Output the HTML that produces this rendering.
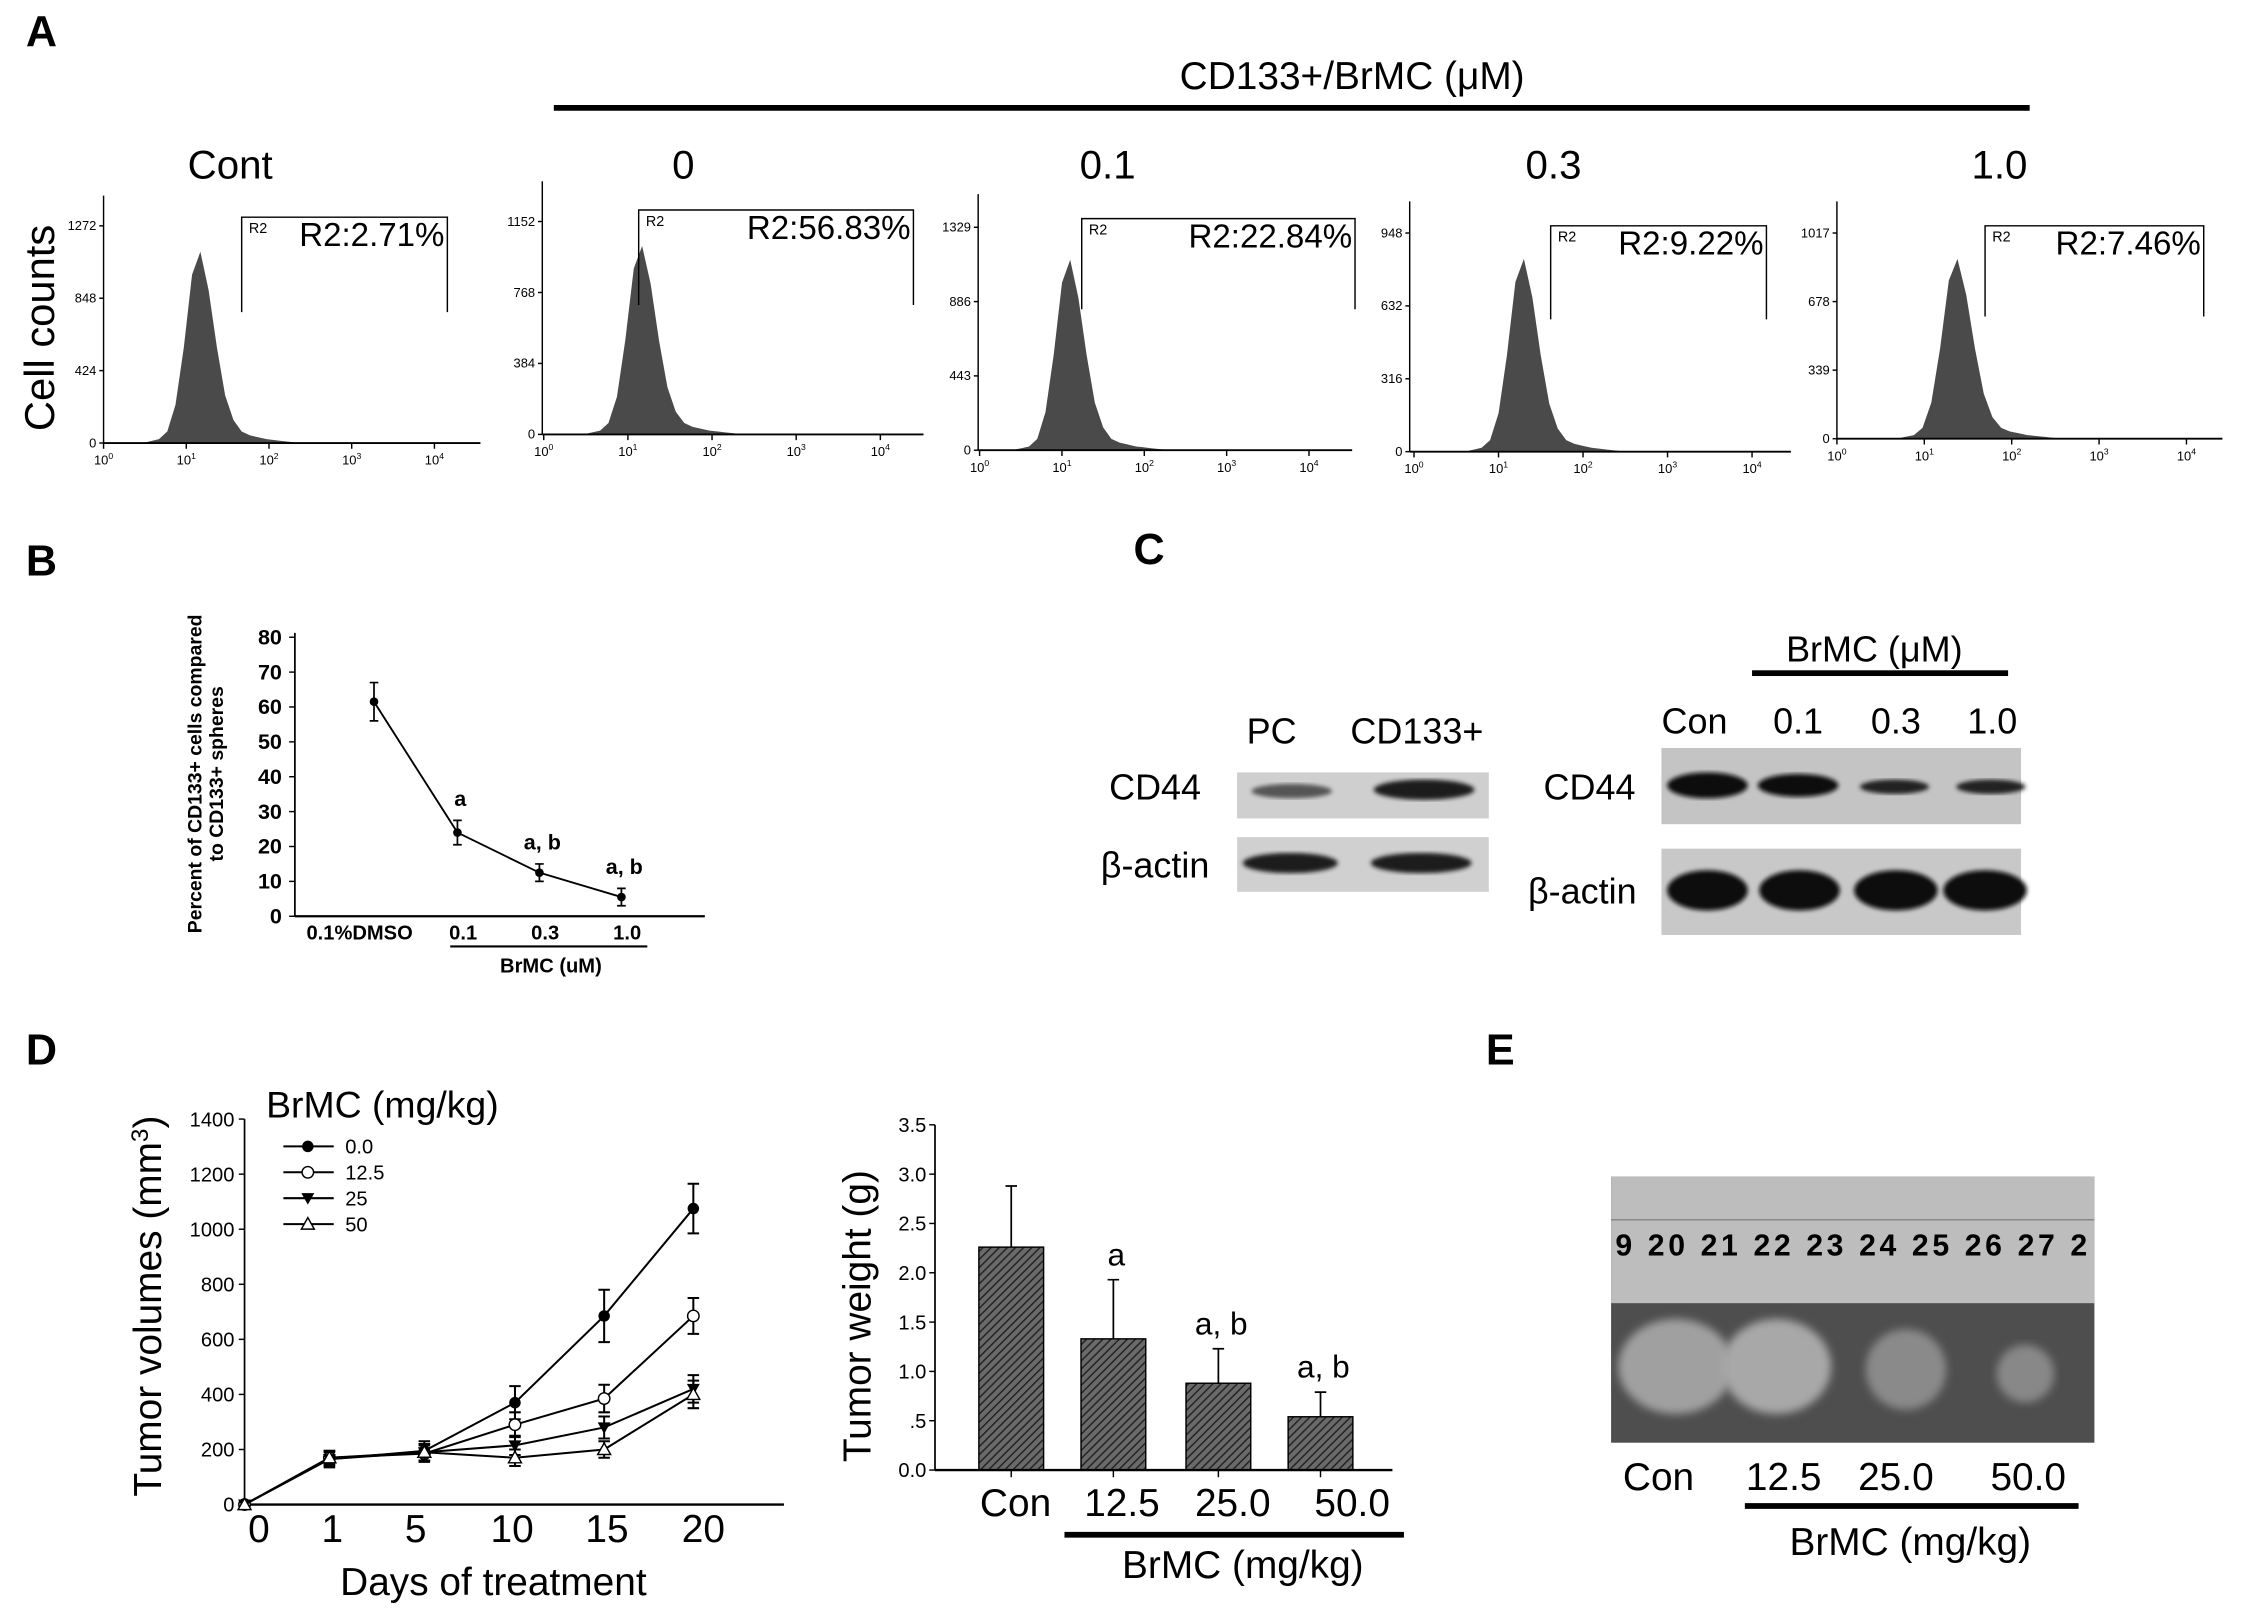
<!DOCTYPE html>
<html><head><meta charset="utf-8"><title>BrMC figure</title>
<style>
html,body{margin:0;padding:0;background:#fff}
svg{display:block}
text{font-family:"Liberation Sans Narrow","Liberation Sans",sans-serif;fill:#000}
.b{font-family:"Liberation Sans",sans-serif;font-weight:bold}
.w{font-family:"Liberation Sans",sans-serif}
</style></head>
<body>
<svg id="fig" xmlns="http://www.w3.org/2000/svg" width="2244" height="1611" viewBox="0 0 1560 1120" preserveAspectRatio="none">
<defs>
<pattern id="hatch" patternUnits="userSpaceOnUse" width="4" height="4" patternTransform="rotate(45)">
<rect width="4" height="4" fill="#6a6a6a"/><line x1="0" y1="0" x2="0" y2="4" stroke="#222" stroke-width="2"/>
</pattern>
<filter id="blur"><feGaussianBlur stdDeviation="3"/></filter>
<filter id="blur2"><feGaussianBlur stdDeviation="1.5"/></filter>
</defs>

<text class="b" x="18" y="32" font-size="30">A</text>
<text class="b" x="18" y="400" font-size="30">B</text>
<text class="b" x="788" y="392" font-size="30">C</text>
<text class="b" x="18" y="740" font-size="30">D</text>
<text class="b" x="1033" y="740" font-size="30">E</text>

<text class="w" x="940" y="62" font-size="27" text-anchor="middle">CD133+/BrMC (μM)</text>
<rect x="385" y="73" width="1026" height="4" fill="#000"/>
<text class="w" x="30" y="228" font-size="29" text-anchor="middle" transform="rotate(-90 30 228)" dominant-baseline="middle">Cell counts</text>
<g id="panelA"></g>

<g id="panelB"></g>

<g>
<text class="w" x="884" y="517" font-size="25" text-anchor="middle">PC</text>
<text class="w" x="985" y="517" font-size="25" text-anchor="middle">CD133+</text>
<text class="w" x="803" y="556" font-size="25" text-anchor="middle">CD44</text>
<text class="w" x="803" y="610" font-size="25" text-anchor="middle">β-actin</text>
<rect x="860" y="537" width="175" height="32" fill="#cfcfcf"/>
<rect x="860" y="582" width="175" height="38" fill="#d0d0d0"/>
<ellipse cx="898" cy="550" rx="28" ry="5" fill="#555" filter="url(#blur2)"/>
<ellipse cx="990" cy="549" rx="35" ry="7" fill="#1e1e1e" filter="url(#blur2)"/>
<ellipse cx="897" cy="600" rx="33" ry="7" fill="#1a1a1a" filter="url(#blur2)"/>
<ellipse cx="988" cy="600" rx="35" ry="7" fill="#1a1a1a" filter="url(#blur2)"/>
</g>
<g>
<text class="w" x="1303" y="460" font-size="25" text-anchor="middle">BrMC (μM)</text>
<rect x="1218" y="466" width="178" height="4" fill="#000"/>
<text class="w" x="1178" y="510" font-size="25" text-anchor="middle">Con</text>
<text class="w" x="1250" y="510" font-size="25" text-anchor="middle">0.1</text>
<text class="w" x="1318" y="510" font-size="25" text-anchor="middle">0.3</text>
<text class="w" x="1385" y="510" font-size="25" text-anchor="middle">1.0</text>
<text class="w" x="1105" y="556" font-size="25" text-anchor="middle">CD44</text>
<text class="w" x="1100" y="628" font-size="25" text-anchor="middle">β-actin</text>
<rect x="1155" y="520" width="250" height="53" fill="#c4c4c4"/>
<rect x="1155" y="590" width="250" height="60" fill="#c8c8c8"/>
<ellipse cx="1187" cy="546" rx="28" ry="9" fill="#0a0a0a" filter="url(#blur2)"/>
<ellipse cx="1250" cy="546" rx="28" ry="8" fill="#111" filter="url(#blur2)"/>
<ellipse cx="1317" cy="547" rx="24" ry="5" fill="#222" filter="url(#blur2)"/>
<ellipse cx="1384" cy="547" rx="24" ry="5" fill="#222" filter="url(#blur2)"/>
<ellipse cx="1187" cy="619" rx="28" ry="14" fill="#080808" filter="url(#blur2)"/>
<ellipse cx="1251" cy="619" rx="28" ry="14" fill="#080808" filter="url(#blur2)"/>
<ellipse cx="1318" cy="619" rx="29" ry="14" fill="#080808" filter="url(#blur2)"/>
<ellipse cx="1380" cy="619" rx="29" ry="14" fill="#080808" filter="url(#blur2)"/>
</g>

<g id="panelD1"></g>
<g id="panelD2"></g>

<g>
<rect x="1120" y="818" width="336" height="185" fill="#4e4e4e"/>
<rect x="1120" y="818" width="336" height="88" fill="#bdbdbd"/>
<line x1="1120" y1="848" x2="1456" y2="848" stroke="#888" stroke-width="1"/>
<text x="1123" y="873" font-size="21" font-weight="bold" fill="#222" font-family="Liberation Serif,serif" textLength="328">9 20 21 22 23 24 25 26 27 2</text>
<ellipse cx="1165" cy="950" rx="40" ry="33" fill="#a0a0a0" filter="url(#blur)"/>
<ellipse cx="1235" cy="950" rx="38" ry="33" fill="#a8a8a8" filter="url(#blur)"/>
<ellipse cx="1325" cy="952" rx="28" ry="28" fill="#8a8a8a" filter="url(#blur)"/>
<ellipse cx="1408" cy="955" rx="20" ry="20" fill="#888" filter="url(#blur)"/>
<text class="w" x="1153" y="1036" font-size="27" text-anchor="middle">Con</text>
<text class="w" x="1240" y="1036" font-size="27" text-anchor="middle">12.5</text>
<text class="w" x="1318" y="1036" font-size="27" text-anchor="middle">25.0</text>
<text class="w" x="1410" y="1036" font-size="27" text-anchor="middle">50.0</text>
<rect x="1213" y="1045" width="232" height="4" fill="#000"/>
<text class="w" x="1328" y="1081" font-size="27" text-anchor="middle">BrMC (mg/kg)</text>
</g>
</svg>

<script>
const histTitles = ["Cont","0","0.1","0.3","1.0"];
const histMaxTicks = [1272,1152,1329,948,1017];
const histPeakCounts = [1120,1020,1135,836,889];
const histPeakLog = [1.17,1.17,1.1,1.3,1.38];
const histR2 = ["R2:2.71%","R2:56.83%","R2:22.84%","R2:9.22%","R2:7.46%"];
const histShape = [0.0,0.01,0.02,0.06,0.2,0.5,0.88,1.0,0.8,0.5,0.25,0.12,0.06,0.04,0.03,0.02,0.015,0.01,0.005,0];
const bCats = ["0.1%DMSO","0.1","0.3","1.0"];
const bVals = [61.5,24,12.5,5.5];
const bErr = [5.5,3.5,2.5,2.5];
const bSig = ["","a","a, b","a, b"];
const bTicks = [0,10,20,30,40,50,60,70,80];
const dDays = ["0","1","5","10","15","20"];
const dSeriesNames = ["0.0","12.5","25","50"];
const dVol0 = [0,165,195,370,685,1075];
const dVol12 = [0,170,185,290,385,685];
const dVol25 = [0,165,190,215,280,420];
const dVol50 = [0,170,190,170,200,400];
const dErr0 = [0,30,35,60,95,90];
const dErr12 = [0,25,30,45,50,65];
const dErr25 = [0,25,30,35,40,50];
const dErr50 = [0,25,30,30,30,50];
const dYTicks = [0,200,400,600,800,1000,1200,1400];
const wCats = ["Con","12.5","25.0","50.0"];
const wVals = [2.26,1.33,0.88,0.54];
const wErr = [0.62,0.6,0.35,0.25];
const wSig = ["","a","a, b","a, b"];
const wTicks = ["0.0",".5","1.0","1.5","2.0","2.5","3.0","3.5"];

const NS="http://www.w3.org/2000/svg";
function mk(parent,tag,attrs,txt){const e=document.createElementNS(NS,tag);for(const k in attrs)e.setAttribute(k,attrs[k]);if(txt!==undefined)e.textContent=txt;parent.appendChild(e);return e;}

(function(){
 const g=document.getElementById('panelA');
 const geo=[
  {ax:72,xd0:72,xd4:302,xEnd:334,y0:308,yMax:157,top:136,gate:[168,311,151,217],tx:160},
  {ax:377,xd0:378,xd4:612,xEnd:642,y0:302,yMax:154,top:126,gate:[444,635,146,212],tx:475},
  {ax:680,xd0:681,xd4:910,xEnd:940,y0:313,yMax:158,top:135,gate:[752,942,152,215],tx:770},
  {ax:980,xd0:983,xd4:1218,xEnd:1245,y0:314,yMax:162,top:140,gate:[1078,1228,157,222],tx:1080},
  {ax:1277,xd0:1277,xd4:1520,xEnd:1545,y0:305,yMax:162,top:140,gate:[1380,1532,157,220],tx:1390}];
 histTitles.forEach((t,i)=>{
  const p=geo[i];
  const sub=mk(g,'g',{});
  
  
  const tt=mk(sub,'text',{x:p.tx,y:124,'font-size':28,'text-anchor':'middle','class':'w'},t);
  
  
  const yS=v=>p.y0-(v/histMaxTicks[i])*(p.y0-p.yMax);
  const xS=l=>p.xd0+(l/4)*(p.xd4-p.xd0);
  let d='M'+xS(histPeakLog[i]-0.8)+','+p.y0;
  histShape.forEach((h,k)=>{const off=-0.7+k*0.1;d+=' L'+xS(histPeakLog[i]+off).toFixed(1)+','+yS(h*histPeakCounts[i]).toFixed(1);});
  d+=' L'+xS(histPeakLog[i]+1.3)+','+p.y0+' Z';
  const hp=mk(sub,'path',{d:d,fill:'#4a4a4a'});
  
  
  mk(sub,'line',{x1:p.ax,y1:p.top,x2:p.ax,y2:p.y0,stroke:'#000','stroke-width':1});
  mk(sub,'line',{x1:p.ax,y1:p.y0,x2:p.xEnd,y2:p.y0,stroke:'#000','stroke-width':1.3});
  [0,1,2,3].forEach(k=>{const v=Math.round(histMaxTicks[i]*k/3);const y=yS(v);
   mk(sub,'line',{x1:p.ax-3,y1:y,x2:p.ax,y2:y,stroke:'#000'});
   mk(sub,'text',{x:p.ax-5,y:y+3,'font-size':9,'text-anchor':'end'},String(v));});
  [0,1,2,3,4].forEach(k=>{const x=xS(k);
   mk(sub,'line',{x1:x,y1:p.y0,x2:x,y2:p.y0+4,stroke:'#000'});
   const tx=mk(sub,'text',{x:x,y:p.y0+15,'font-size':9,'text-anchor':'middle'},'10');
   mk(tx,'tspan',{dy:-4,'font-size':6},String(k));});
  const gt=p.gate;
  const gp=mk(sub,'path',{d:`M${gt[0]},${gt[3]} V${gt[2]} H${gt[1]} V${gt[3]}`,fill:'none',stroke:'#000','stroke-width':1});
  
  
  mk(sub,'text',{x:gt[0]+5,y:gt[2]+11,'font-size':10},'R2');
  const rt=mk(sub,'text',{x:gt[1]-2,y:gt[2]+20,'font-size':23,'text-anchor':'end','class':'w'},histR2[i]);
  
  
 });
})();

(function(){
 const g=document.getElementById('panelB');
 const ax=205,y0=637,yTop=443,xEnd=490;
 const xs=[260,318,375,432];
 const yS=v=>y0-(v/80)*(y0-yTop);
 mk(g,'line',{x1:ax,y1:yTop-3,x2:ax,y2:y0,stroke:'#000','stroke-width':1.2});
 mk(g,'line',{x1:ax,y1:y0,x2:xEnd,y2:y0,stroke:'#000','stroke-width':1.5});
 bTicks.forEach(v=>{const y=yS(v);mk(g,'line',{x1:ax-4,y1:y,x2:ax,y2:y,stroke:'#000'});
  mk(g,'text',{x:ax-9,y:y+5,'font-size':15,'text-anchor':'end','font-weight':'bold'},String(v));});
 let d='';bVals.forEach((v,i)=>{d+=(i?' L':'M')+xs[i]+','+yS(v);});
 const ln=mk(g,'path',{d:d,fill:'none',stroke:'#000','stroke-width':1.3});
 
 
 bVals.forEach((v,i)=>{
  const x=xs[i],yt=yS(v+bErr[i]),yb=yS(v-bErr[i]);
  mk(g,'path',{d:`M${x},${yt}V${yb}M${x-3},${yt}H${x+3}M${x-3},${yb}H${x+3}`,stroke:'#000','stroke-width':1.2,fill:'none'});
  const c=mk(g,'circle',{cx:x,cy:yS(v),r:3,fill:'#000'});
  
  
  if(bSig[i])mk(g,'text',{x:x+2,y:yt-10,'font-size':15,'text-anchor':'middle','font-weight':'bold'},bSig[i]);
  mk(g,'text',{x:i?x+4:x-10,y:y0+16,'font-size':14,'text-anchor':'middle','font-weight':'bold'},bCats[i]);
 });
 mk(g,'line',{x1:313,y1:658,x2:450,y2:658,stroke:'#000','stroke-width':1.5});
 mk(g,'text',{x:383,y:676,'font-size':14,'text-anchor':'middle','font-weight':'bold'},'BrMC (uM)');
 const yl=mk(g,'text',{x:0,y:0,'font-size':13.5,'text-anchor':'middle','class':'b',transform:'translate(140,538) rotate(-90)'});
 
 
 mk(yl,'tspan',{x:0,dy:0},'Percent of CD133+ cells compared');
 mk(yl,'tspan',{x:0,dy:15},'to CD133+ spheres');
})();

(function(){
 const g=document.getElementById('panelD1');
 const ax=170,y0=1046,yTop=778,xEnd=545;
 const xs=[170,229,295,358,420,482];
 const lx=[180,231,289,356,422,489];
 const yS=v=>y0-(v/1400)*(y0-yTop);
 mk(g,'line',{x1:ax,y1:yTop,x2:ax,y2:y0,stroke:'#000','stroke-width':1.2});
 mk(g,'line',{x1:ax,y1:y0,x2:xEnd,y2:y0,stroke:'#000','stroke-width':1.6});
 dYTicks.forEach(v=>{const y=yS(v);mk(g,'line',{x1:ax-4,y1:y,x2:ax,y2:y,stroke:'#000'});
  mk(g,'text',{x:ax-7,y:y+5,'font-size':14,'text-anchor':'end'},String(v));});
 dDays.forEach((t,i)=>mk(g,'text',{x:lx[i],y:1072,'font-size':27,'text-anchor':'middle','class':'w'},t));
 const series=[[dVol0,dErr0,'fc'],[dVol12,dErr12,'oc'],[dVol25,dErr25,'ft'],[dVol50,dErr50,'ot']];
 function marker(p,x,y,t){
  if(t==='fc')return mk(p,'circle',{cx:x,cy:y,r:4,fill:'#000'});
  if(t==='oc')return mk(p,'circle',{cx:x,cy:y,r:4,fill:'#fff',stroke:'#000'});
  if(t==='ft')return mk(p,'path',{d:`M${x-4.5},${y-3.5}H${x+4.5}L${x},${y+4.5}Z`,fill:'#000'});
  return mk(p,'path',{d:`M${x-4.5},${y+3.5}H${x+4.5}L${x},${y-4.5}Z`,fill:'#fff',stroke:'#000'});
 }
 series.forEach((s,si)=>{
  const sg=mk(g,'g',{});
  
  
  let d='';s[0].forEach((v,i)=>{d+=(i?' L':'M')+xs[i]+','+yS(v);});
  mk(sg,'path',{d:d,fill:'none',stroke:'#000','stroke-width':1.4});
  s[0].forEach((v,i)=>{
   const x=xs[i];
   if(s[1][i]){const yt=yS(v+s[1][i]),yb=yS(v-s[1][i]);
    mk(sg,'path',{d:`M${x},${yt}V${yb}M${x-4},${yt}H${x+4}M${x-4},${yb}H${x+4}`,stroke:'#000','stroke-width':1.4,fill:'none'});}
   const m=marker(sg,x,yS(v),s[2]);
   
   
  });
 });
 mk(g,'text',{x:185,y:777,'font-size':26,'class':'w'},'BrMC (mg/kg)');
 dSeriesNames.forEach((n,i)=>{
  const y=797+i*18;
  const lg=mk(g,'g',{});
  
  
  mk(lg,'line',{x1:197,y1:y,x2:232,y2:y,stroke:'#000','stroke-width':1.4});
  marker(lg,214,y,series[i][2]);
  mk(lg,'text',{x:240,y:y+5,'font-size':14},n);
 });
 const yl=mk(g,'text',{x:0,y:0,'font-size':27,'text-anchor':'middle','class':'w',transform:'translate(112,908) rotate(-90)'},'Tumor volumes (mm');
 mk(yl,'tspan',{dy:-9,'font-size':17},'3');
 mk(yl,'tspan',{dy:9},')');
 
 
 const xl=mk(g,'text',{x:343,y:1109,'font-size':27,'text-anchor':'middle','class':'w'},'Days of treatment');
 
 
})();

(function(){
 const g=document.getElementById('panelD2');
 const ax=650,y0=1022,yTop=782,xEnd=968;
 const xc=[703,774,847,918],bw=45;
 const yS=v=>y0-(v/3.5)*(y0-yTop);
 mk(g,'line',{x1:ax,y1:yTop,x2:ax,y2:y0,stroke:'#000','stroke-width':1.2});
 wTicks.forEach((t,i)=>{const y=yS(i*0.5);mk(g,'line',{x1:ax-4,y1:y,x2:ax,y2:y,stroke:'#000'});
  mk(g,'text',{x:ax-6,y:y+5,'font-size':14,'text-anchor':'end'},t);});
 wVals.forEach((v,i)=>{
  const x=xc[i],yt=yS(v+wErr[i]);
  mk(g,'path',{d:`M${x},${yt}V${yS(v)}M${x-4},${yt}H${x+4}`,stroke:'#000','stroke-width':1.2,fill:'none'});
  const r=mk(g,'rect',{x:x-bw/2,y:yS(v),width:bw,height:y0-yS(v),fill:'url(#hatch)',stroke:'#000','stroke-width':1});
  
  
  if(wSig[i])mk(g,'text',{x:x+2,y:yt-10,'font-size':22,'text-anchor':'middle','class':'w'},wSig[i]);
  mk(g,'line',{x1:x,y1:y0,x2:x,y2:y0+5,stroke:'#000'});
  mk(g,'text',{x:[706,780,857,940][i],y:1054,'font-size':27,'text-anchor':'middle','class':'w'},wCats[i]);
 });
 mk(g,'line',{x1:ax,y1:y0,x2:xEnd,y2:y0,stroke:'#000','stroke-width':1.6});
 mk(g,'rect',{x:740,y:1065,width:236,height:4,fill:'#000'});
 mk(g,'text',{x:864,y:1097,'font-size':27,'text-anchor':'middle','class':'w'},'BrMC (mg/kg)');
 const yl=mk(g,'text',{x:0,y:0,'font-size':27,'text-anchor':'middle','class':'w',transform:'translate(605,915) rotate(-90)'},'Tumor weight (g)');
 
 
})();
</script>
</body></html>
